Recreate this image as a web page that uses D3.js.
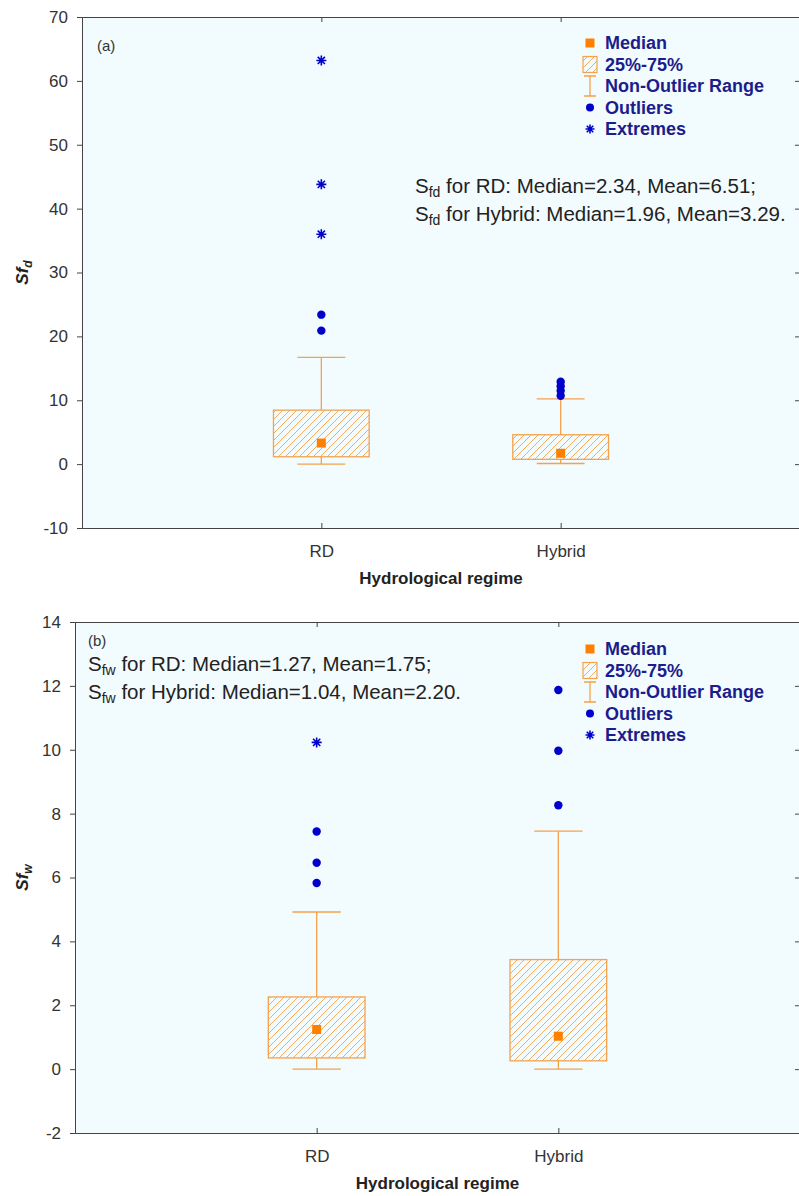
<!DOCTYPE html>
<meta charset="utf-8">
<style>
body{margin:0;background:#fff;}
text{font-family:"Liberation Sans",Arial,sans-serif;fill:#333;}
.tick text{font-size:17px;}
.legend text{font-size:18px;font-weight:bold;fill:#1c1c8c;}
.note{font-size:20.5px;fill:#222;}
.title{font-size:17px;font-weight:bold;fill:#222;}
</style>
<body>
<script src="https://d3js.org/d3.v7.min.js"></script>
<script>

var categories = ["RD", "Hybrid"];

// panel (a) Sfd
var sfdQ1 = [1.15, 0.75];
var sfdQ3 = [8.45, 4.6];
var sfdMedian = [3.3, 1.7];
var sfdLow = [0, 0.1];
var sfdHigh = [16.7, 10.2];
var sfdOutliers = [[23.4, 20.9], [12.9, 12.2, 11.5, 10.7]];
var sfdExtremes = [[63.2, 43.8, 36.0], []];
var sfdTicks = [-10, 0, 10, 20, 30, 40, 50, 60, 70];

// panel (b) Sfw
var sfwQ1 = [0.35, 0.26];
var sfwQ3 = [2.26, 3.43];
var sfwMedian = [1.24, 1.03];
var sfwLow = [0, 0];
var sfwHigh = [4.92, 7.45];
var sfwOutliers = [[7.44, 6.46, 5.83], [11.87, 9.97, 8.26]];
var sfwExtremes = [[10.23], []];
var sfwTicks = [-2, 0, 2, 4, 6, 8, 10, 12, 14];

var legendItems = ["Median", "25%-75%", "Non-Outlier Range", "Outliers", "Extremes"];

var orange = "#f4a24c", orangeFill = "#ff8000", blue = "#0000cc";

var svg = d3.select("body").append("svg").attr("width", 799).attr("height", 1196);

var defs = svg.append("defs");
defs.append("pattern").attr("id", "hatch")
	.attr("patternUnits", "userSpaceOnUse")
	.attr("width", 7).attr("height", 7)
	.append("path")
	.attr("d", "M0,7L7,0M-1,1L1,-1M6,8L8,6")
	.attr("stroke", orange).attr("stroke-width", 0.9);

function asterisk(g, x, y, r){
	var d = "M" + (x - r) + "," + y + "H" + (x + r) +
		"M" + x + "," + (y - r) + "V" + (y + r);
	var q = r * 0.72;
	d += "M" + (x - q) + "," + (y - q) + "L" + (x + q) + "," + (y + q) +
		"M" + (x - q) + "," + (y + q) + "L" + (x + q) + "," + (y - q);
	g.append("path").attr("d", d).attr("stroke", blue).attr("stroke-width", 1.6).attr("fill", "none");
}

function panel(p){
	var g = svg.append("g");
	var x = d3.scalePoint().domain(categories).range([p.left, p.right]).padding(1);
	var y = d3.scaleLinear().domain(d3.extent(p.ticks)).range([p.bottom, p.top]);
	var bw = x.step() * 0.4;

	g.append("rect").attr("x", p.left).attr("y", p.top)
		.attr("width", p.right - p.left).attr("height", p.bottom - p.top)
		.attr("fill", "#f2fbfd");

	// axes
	g.append("g").attr("transform", "translate(" + p.left + ",0)")
		.call(d3.axisLeft(y).tickValues(p.ticks).tickSize(5).tickPadding(9).tickFormat(d => String(d)));
	g.append("g").attr("transform", "translate(" + p.right + ",0)")
		.call(d3.axisRight(y).tickValues(p.ticks).tickSize(-5).tickFormat(""));
	var bx = g.append("g").attr("transform", "translate(0," + p.bottom + ")")
		.call(d3.axisBottom(x).tickSize(-5).tickPadding(17));
	g.append("g").attr("transform", "translate(0," + p.top + ")")
		.call(d3.axisTop(x).tickSize(-5).tickFormat(""));
	g.selectAll(".domain").attr("stroke", "#444");
	g.selectAll(".tick line").attr("stroke", "#444");
	g.selectAll(".tick text").attr("fill", "#333").style("font-family", '"Liberation Sans",Arial,sans-serif');
	bx.selectAll(".tick text").attr("dy", "0.71em");

	g.append("text").attr("class", "title")
		.attr("transform", "translate(28," + (p.top + p.bottom) / 2 + ") rotate(-90)")
		.attr("text-anchor", "middle").attr("font-style", "italic")
		.html('Sf<tspan font-size="12px" dy="4">' + p.sub + '</tspan>');
	g.append("text").attr("class", "title")
		.attr("x", (p.left + p.right) / 2).attr("y", p.bottom + 56)
		.attr("text-anchor", "middle").text("Hydrological regime");

	g.append("text").attr("x", p.left + p.tagDx).attr("y", p.tagY)
		.style("font-size", "15px").attr("fill", "#333").text(p.tag);

	// boxes
	categories.forEach(function(c, i){
		var cx = x(c);
		var bg = g.append("g");
		bg.append("line").attr("x1", cx).attr("x2", cx).attr("y1", y(p.high[i])).attr("y2", y(p.q3[i]))
			.attr("stroke", orange).attr("stroke-width", 1.3);
		bg.append("line").attr("x1", cx).attr("x2", cx).attr("y1", y(p.q1[i])).attr("y2", y(p.low[i]))
			.attr("stroke", orange).attr("stroke-width", 1.3);
		[p.high[i], p.low[i]].forEach(function(v){
			bg.append("line").attr("x1", cx - bw / 4).attr("x2", cx + bw / 4).attr("y1", y(v)).attr("y2", y(v))
				.attr("stroke", orange).attr("stroke-width", 1.3);
		});
		bg.append("rect").attr("x", cx - bw / 2).attr("y", y(p.q3[i]))
			.attr("width", bw).attr("height", y(p.q1[i]) - y(p.q3[i]))
			.attr("fill", "url(#hatch)").attr("stroke", orange).attr("stroke-width", 1.3);
		bg.append("rect").attr("x", cx - 4.5).attr("y", y(p.median[i]) - 4.5)
			.attr("width", 9).attr("height", 9).attr("fill", orangeFill);
		bg.selectAll("circle").data(p.outliers[i]).enter().append("circle")
			.attr("cx", cx).attr("cy", d => y(d)).attr("r", 4.2).attr("fill", blue);
		p.extremes[i].forEach(function(v){ asterisk(bg, cx, y(v), 5); });
	});

	// annotation
	p.notes.forEach(function(n, k){
		var t = g.append("text").attr("class", "note").attr("x", p.noteX).attr("y", p.noteY + k * 28);
		t.append("tspan").text("S");
		t.append("tspan").attr("dy", 4).style("font-size", "14px").text(p.sub2);
		t.append("tspan").attr("dy", -4).text(" " + n);
	});

	// legend
	var lg = g.append("g").attr("class", "legend");
	var lx = 590;
	legendItems.forEach(function(name, k){
		var ly = p.legendY + k * 21.5;
		lg.append("text").attr("x", lx + 15).attr("y", ly).attr("dy", "0.36em").text(name);
		if (k == 0) lg.append("rect").attr("x", lx - 4.5).attr("y", ly - 4.5).attr("width", 9).attr("height", 9).attr("fill", orangeFill);
		if (k == 1) lg.append("rect").attr("x", lx - 7).attr("y", ly - 8).attr("width", 14).attr("height", 16)
			.attr("fill", "url(#hatch)").attr("stroke", orange).attr("stroke-width", 1.2);
		if (k == 2) lg.append("path").attr("d", "M" + (lx - 6) + "," + (ly - 10) + "H" + (lx + 6) + "M" + lx + "," + (ly - 10) + "V" + (ly + 10) + "M" + (lx - 6) + "," + (ly + 10) + "H" + (lx + 6))
			.attr("stroke", orange).attr("stroke-width", 1.3).attr("fill", "none");
		if (k == 3) lg.append("circle").attr("cx", lx).attr("cy", ly).attr("r", 4).attr("fill", blue);
		if (k == 4) asterisk(lg, lx, ly, 4.5);
	});
}

panel({left: 82, right: 800, top: 17, bottom: 528, ticks: sfdTicks, sub: "d", sub2: "fd", tag: "(a)", tagDx: 15, tagY: 51,
	q1: sfdQ1, q3: sfdQ3, median: sfdMedian, low: sfdLow, high: sfdHigh, outliers: sfdOutliers, extremes: sfdExtremes,
	notes: ["for RD: Median=2.34, Mean=6.51;", "for Hybrid: Median=1.96, Mean=3.29."], noteX: 415, noteY: 193,
	legendY: 43});

panel({left: 75, right: 800, top: 622, bottom: 1133, ticks: sfwTicks, sub: "w", sub2: "fw", tag: "(b)", tagDx: 13, tagY: 646,
	q1: sfwQ1, q3: sfwQ3, median: sfwMedian, low: sfwLow, high: sfwHigh, outliers: sfwOutliers, extremes: sfwExtremes,
	notes: ["for RD: Median=1.27, Mean=1.75;", "for Hybrid: Median=1.04, Mean=2.20."], noteX: 88, noteY: 671,
	legendY: 649});

</script>
</body>
</html>
